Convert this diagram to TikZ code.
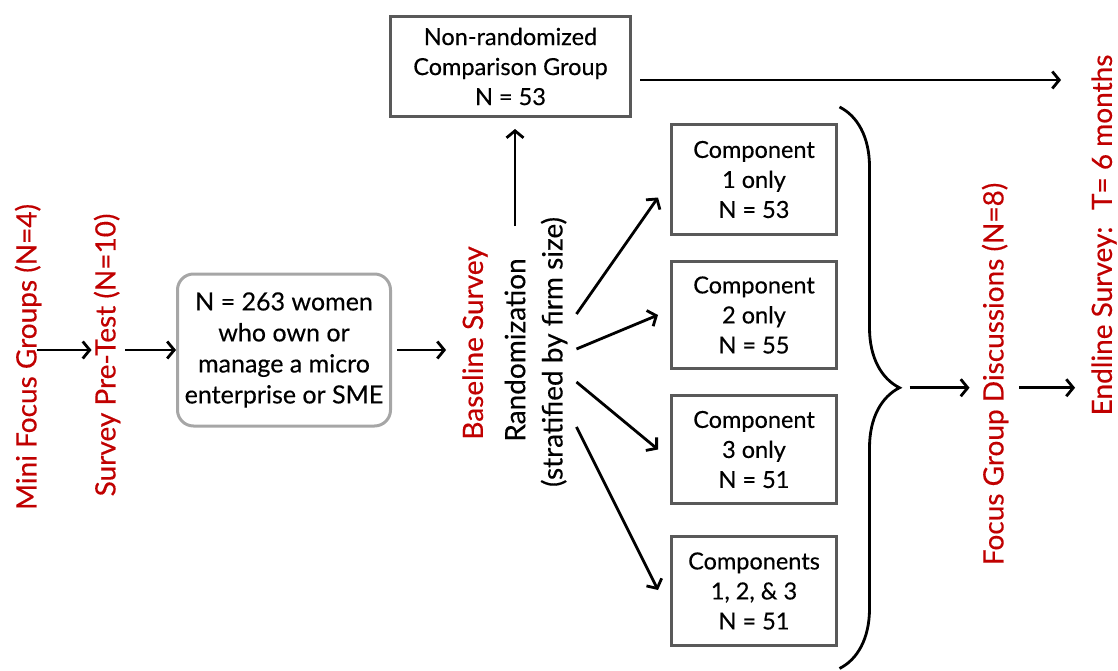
\documentclass[tikz,border=0pt]{standalone}
\usepackage{fontspec}
\setmainfont{Lato}[FakeBold=0.35]
\usetikzlibrary{arrows.meta,calc,decorations.pathreplacing,positioning}
\definecolor{cstage}{RGB}{192,0,0}
\definecolor{cbox}{RGB}{89,89,89}
\definecolor{cpop}{RGB}{166,166,166}

\begin{document}
\begin{tikzpicture}[
  x=1pt,y=-1pt,
  >={Straight Barb[length=7pt,width=17pt]},
  flow/.style={->,line width=2.8pt},
  stage/.style={cstage,rotate=90,inner sep=0pt,font=\fontsize{28}{33}\selectfont},
  note/.style={black,rotate=90,inner sep=0pt,font=\fontsize{28}{33}\selectfont},
  arm/.style={draw=cbox,line width=3pt,align=center,inner sep=0pt,font=\fontsize{23.5}{30}\selectfont},
  popbox/.style={draw=cpop,line width=3pt,rounded corners=16pt,align=center,inner sep=0pt,font=\fontsize{25}{31}\selectfont},
  bracket/.style={decorate,decoration={brace,amplitude=60pt},line width=2.8pt},
]
\useasboundingbox (0,0) rectangle (1118,671);

% ============================ left: pre-study stages ============================
\node[stage] (minifg) at (28,357) {Mini Focus Groups (N=4)};
\node[stage] (pretest) at (107,355) {Survey Pre-Test (N=10)};
\node[popbox,minimum width=213pt,minimum height=152pt] (pop) at (284,350)
  {N = 263 women\\who own or\\manage a micro\\enterprise or SME};

\draw[flow,shorten <=-4pt,shorten >=2pt] (minifg.south |- pop) -- (pretest.north |- pop);
\draw[flow,shorten <=5pt] (pretest.south |- pop) -- (pop.west);

% ============================ middle: baseline and randomization ============================
\node[stage] (base) at (475,343) {Baseline Survey};
\node[note] (rand) at (515,350) {Randomization};
\node[note] (strat) at (554,352) {(stratified by firm size)};

\draw[flow,shorten <=5pt,shorten >=16pt] (pop.east) -- (base.north |- pop);

% comparison group (not randomized)
\node[arm,minimum width=240pt,minimum height=100pt] (comp0) at (510.5,66.5)
  {Non-randomized\\Comparison Group\\N = 53};
\draw[flow,shorten <=32pt,shorten >=11pt] (rand.east) -- (rand.east |- comp0.south);

% treatment arms
\node[arm,minimum width=165pt,minimum height=110pt] (c1) at (754,179.5) {Component\\1 only\\N = 53};
\node[arm,minimum width=165pt,minimum height=107pt] (c2) at (754,315) {Component\\2 only\\N = 55};
\node[arm,minimum width=165pt,minimum height=108pt] (c3) at (754,449.5) {Component\\3 only\\N = 51};
\node[arm,minimum width=165pt,minimum height=109pt] (c4) at (754,591) {Components\\1, 2, \& 3\\N = 51};

\foreach \dy/\arm/\ty in {-38/c1/18, -3/c2/0, 30/c3/0, 75/c4/-1}
  \draw[flow] ($(strat.south)+(9,\dy)$) -- ($(\arm.west)+(-12,\ty)$);

% ============================ right: follow-up ============================
\node[stage] (fgd) at (995,374) {Focus Group Discussions (N=8)};
\node[stage] (endline) at (1104,235) {Endline Survey:\hspace{0.25em} T= 6 months};

% brace gathering the four arms
\coordinate (bt) at ($(c1.north east)+(1.5,-16)$);
\coordinate (bb) at ($(c4.south east)+(1.5,21.5)$);
\draw[bracket] (bt) -- (bb);
\coordinate (tip) at ($(bt)!0.5!(bb)+(60,0)$);

\draw[flow,shorten <=10pt,shorten >=12pt] (tip) -- (tip -| fgd.north);
\draw[flow,shorten <=11pt,shorten >=16pt] (fgd.south |- tip) -- (endline.north |- tip);

% comparison group straight to endline
\coordinate (cmpout) at ($(comp0.east)+(8,13.5)$);
\draw[flow,shorten >=30pt] (cmpout) -- (cmpout -| endline.north);

\end{tikzpicture}
\end{document}
